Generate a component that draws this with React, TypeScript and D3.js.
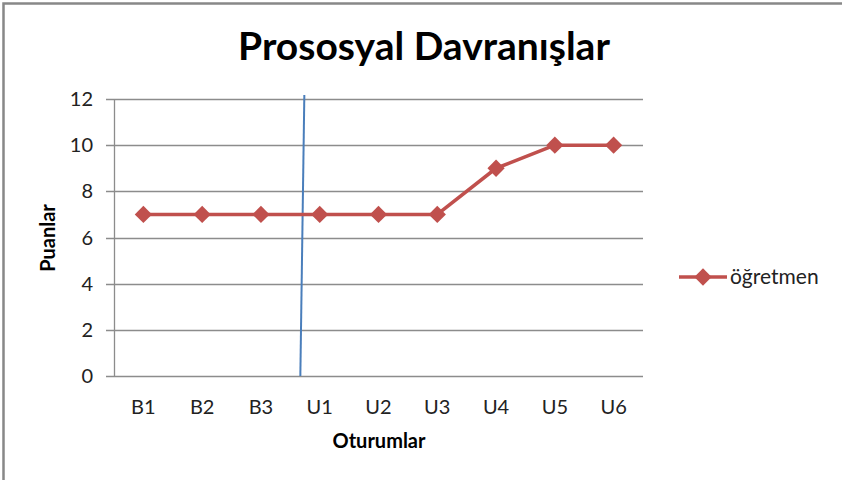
import { useEffect, useRef } from 'react';
import * as d3 from 'd3';

const categories = ['B1', 'B2', 'B3', 'U1', 'U2', 'U3', 'U4', 'U5', 'U6'];
const ogretmen = [7, 7, 7, 7, 7, 7, 9, 10, 10];
const yTicks = [0, 2, 4, 6, 8, 10, 12];
const seriesName = 'öğretmen';

export default function App() {
  const ref = useRef<SVGSVGElement>(null);

  useEffect(() => {
    if (!ref.current) return;
    const svg = d3.select(ref.current);
    svg.selectAll('*').remove();

    const width = 842;
    const height = 480;
    const font = 'Lato, Open Sans, sans-serif';
    const red = '#C0504D';
    const grid = '#8c8c8c';

    // plot area
    const left = 114;
    const right = 643;
    const top = 99;
    const bottom = 376;

    svg.append('rect').attr('width', width).attr('height', height).attr('fill', '#fff');

    // frame (only top/left visible)
    svg.append('path')
      .attr('d', `M3.5,${height} V3.5 H${width}`)
      .attr('fill', 'none')
      .attr('stroke', '#888')
      .attr('stroke-width', 2.5);

    const x = d3.scaleBand().domain(categories).range([left, right]);
    const y = d3.scaleLinear().domain([0, 12]).range([bottom, top]);

    // gridlines + tick marks
    svg.append('g')
      .selectAll('line')
      .data(yTicks)
      .enter()
      .append('line')
      .attr('x1', left - 8)
      .attr('x2', right)
      .attr('y1', (d) => Math.round(y(d)) + 0.5)
      .attr('y2', (d) => Math.round(y(d)) + 0.5)
      .attr('stroke', grid)
      .attr('stroke-width', 1.3);

    // y axis line
    svg.append('line')
      .attr('x1', left + 0.5).attr('x2', left + 0.5)
      .attr('y1', top).attr('y2', bottom)
      .attr('stroke', grid)
      .attr('stroke-width', 1.3);

    // y tick labels
    svg.append('g')
      .selectAll('text')
      .data(yTicks)
      .enter()
      .append('text')
      .attr('x', 93)
      .attr('y', (d) => y(d))
      .attr('dy', '0.35em')
      .attr('text-anchor', 'end')
      .attr('font-family', font)
      .attr('font-size', 20)
      .attr('fill', '#222')
      .text((d) => d);

    // x tick labels
    svg.append('g')
      .selectAll('text')
      .data(categories)
      .enter()
      .append('text')
      .attr('x', (d) => x(d)! + x.bandwidth() / 2)
      .attr('y', 414)
      .attr('text-anchor', 'middle')
      .attr('font-family', font)
      .attr('font-size', 20)
      .attr('fill', '#222')
      .text((d) => d);

    // phase change line between B3 and U1
    const phaseX = x('U1')! + 12;
    svg.append('line')
      .attr('x1', phaseX + 2)
      .attr('y1', y(12) - 4)
      .attr('x2', phaseX - 2)
      .attr('y2', bottom)
      .attr('stroke', '#4A7EBB')
      .attr('stroke-width', 2);

    // series line
    const line = d3.line<number>()
      .x((_, i) => x(categories[i])! + x.bandwidth() / 2)
      .y((d) => y(d));

    svg.append('path')
      .datum(ogretmen)
      .attr('d', line)
      .attr('fill', 'none')
      .attr('stroke', red)
      .attr('stroke-width', 3.5)
      .attr('stroke-linejoin', 'round');

    const diamond = d3.symbol().type(d3.symbolDiamond2).size(190);
    svg.append('g')
      .selectAll('path')
      .data(ogretmen)
      .enter()
      .append('path')
      .attr('d', diamond)
      .attr('transform', (d, i) => `translate(${x(categories[i])! + x.bandwidth() / 2},${y(d)})`)
      .attr('fill', red);

    // title
    svg.append('text')
      .attr('x', 424)
      .attr('y', 60)
      .attr('text-anchor', 'middle')
      .attr('font-family', font)
      .attr('font-weight', 'bold')
      .attr('font-size', 39)
      .attr('fill', '#000')
      .text('Prososyal Davranışlar');

    // axis titles
    svg.append('text')
      .attr('x', 379)
      .attr('y', 448)
      .attr('text-anchor', 'middle')
      .attr('font-family', font)
      .attr('font-weight', 'bold')
      .attr('font-size', 20)
      .attr('fill', '#000')
      .text('Oturumlar');

    svg.append('text')
      .attr('transform', 'translate(55,238) rotate(-90)')
      .attr('text-anchor', 'middle')
      .attr('font-family', font)
      .attr('font-weight', 'bold')
      .attr('font-size', 20)
      .attr('fill', '#000')
      .text('Puanlar');

    // legend
    const ly = 277;
    svg.append('line')
      .attr('x1', 679).attr('x2', 727)
      .attr('y1', ly).attr('y2', ly)
      .attr('stroke', red)
      .attr('stroke-width', 3.5);
    svg.append('path')
      .attr('d', diamond)
      .attr('transform', `translate(703,${ly})`)
      .attr('fill', red);
    svg.append('text')
      .attr('x', 730)
      .attr('y', ly)
      .attr('dy', '0.35em')
      .attr('font-family', font)
      .attr('font-size', 21)
      .attr('fill', '#222')
      .text(seriesName);
  }, []);

  return (
    <svg
      ref={ref}
      width={842}
      height={480}
      style={{ position: 'absolute', left: 0, top: 0 }}
    />
  );
}
